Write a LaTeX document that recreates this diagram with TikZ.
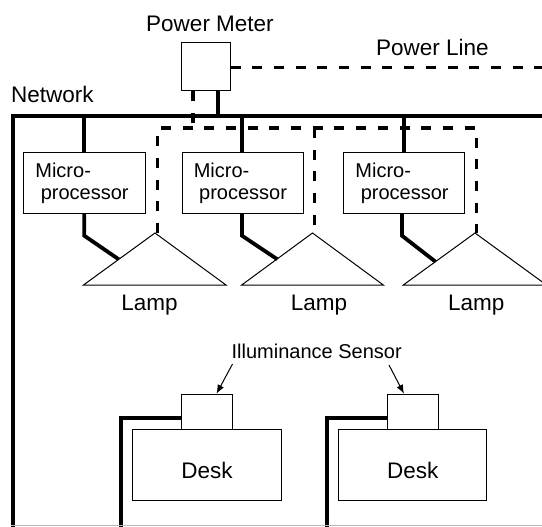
\documentclass[tikz,border=0pt]{standalone}
\usepackage{fontspec}
\setmainfont{Liberation Sans}
\usetikzlibrary{arrows.meta}
\begin{document}
\begin{tikzpicture}[x=1pt,y=-1pt,
  box/.style={draw, line width=1pt, inner sep=0pt},
  lbl/.style={inner sep=0pt, anchor=base, font=\fontsize{22.5}{27}\selectfont},
  slbl/.style={inner sep=0pt, anchor=base west, font=\fontsize{20}{24}\selectfont},
  net/.style={line width=3.8pt},
  pwr/.style={line width=3.3pt, dash pattern=on 10pt off 11.7pt},
  thinline/.style={line width=1pt},
  arr/.style={line width=1pt, -{Latex[length=9pt,width=7pt]}}
]
\clip (0,0) rectangle (542,527);
\fill[white] (0,0) rectangle (542,527);

% Power meter
\node[box, minimum width=49pt, minimum height=48pt] (pm) at (205.5,67) {};
\node[lbl] (pmtxt) at (210,31.7) {Power Meter};
\node[lbl] (pltxt) at (432.3,56) {Power Line};
\node[lbl, anchor=base west] (nettxt) at (11,103) {Network};

% helper x positions
\coordinate (x218) at (218,0);
\coordinate (x193) at (193,0);
\coordinate (x84) at (84.3,0);
\coordinate (x242) at (242,0);
\coordinate (x404) at (404,0);
\coordinate (x402) at (402,0);
\coordinate (xs1) at (216.5,0);
\coordinate (xs2) at (404,0);
\coordinate (yd) at (0,418.3);

% network bus
\coordinate (busR) at (542,116);
\coordinate (busL) at (12.7,116);
\coordinate (busB) at (12.7,527);
\draw[net] (busR) -- (busL) -- (busB);
\draw[net] (pm.south -| x218) -- (x218 |- busR);

% power line
\coordinate (plR) at (542,67.5);
\draw[pwr] (pm.east |- plR) -- (plR);

% microprocessors
\foreach \n/\xl/\w in {1/23.3/122, 2/181.7/121, 3/343.3/121}{
  \node[box, minimum width=\w pt, minimum height=60.7pt, anchor=north west] (mp\n) at (\xl,152) {};
  \node[slbl] (mpa\n) at (\xl+11.9,177.3) {Micro-};
  \node[slbl] (mpb\n) at (\xl+17.3,200) {processor};
}
\draw[net] (x84 |- busR) -- (mp1.north -| x84);
\draw[net] (x242 |- busR) -- (mp2.north -| x242);
\draw[net] (x404 |- busR) -- (mp3.north -| x404);

% lamps
\coordinate (l1a) at (155,233);
\coordinate (l1l) at (83.5,285);
\coordinate (l1r) at (226,285);
\coordinate (l2a) at (312.5,233);
\coordinate (l2l) at (241.7,285);
\coordinate (l2r) at (383.3,285);
\coordinate (l3a) at (475,233);
\coordinate (l3l) at (403.3,285);
\coordinate (l3r) at (546.5,285);
\draw[thinline] (l1l) -- (l1a) -- (l1r) -- cycle;
\draw[thinline] (l2l) -- (l2a) -- (l2r) -- cycle;
\draw[thinline] (l3l) -- (l3a) -- (l3r) -- cycle;
\node[lbl] (lamp1) at (149.5,310) {Lamp};
\node[lbl] (lamp2) at (319,310) {Lamp};
\node[lbl] (lamp3) at (476.3,310) {Lamp};

% micro to lamp
\coordinate (e1) at (118.7,259.3);
\coordinate (e2) at (277.3,259.3);
\coordinate (e3) at (435.5,261.7);
\draw[net] (mp1.south -| x84) -- (84.3,235.7) -- (e1);
\draw[net] (mp2.south -| x242) -- (242,235.7) -- (e2);
\draw[net] (mp3.south -| x402) -- (402,235.7) -- (e3);

% power distribution (dashed)
\coordinate (pd1) at (157.3,233);
\coordinate (pd2) at (314.3,233);
\coordinate (pd3) at (476.7,233);
\coordinate (pdy) at (0,128);
\draw[pwr] (pm.south -| x193) -- (x193 |- pdy);
\draw[pwr] (pd1) -- (pd1 |- pdy) -- (pd3 |- pdy) -- (pd3);
\draw[pwr] (pd2 |- pdy) -- (pd2);

% sensors and desks
\node[box, minimum width=50.6pt, minimum height=35pt] (s1) at (207,411.8) {};
\node[box, minimum width=50.4pt, minimum height=35pt] (s2) at (412.8,411.8) {};
\node[box, minimum width=148.3pt, minimum height=71.4pt] (d1) at (206.85,465) {};
\node[box, minimum width=148.2pt, minimum height=71.4pt] (d2) at (412.6,465) {};
\node[lbl] (d1t) at (207,478.3) {Desk};
\node[lbl] (d2t) at (412.7,478.3) {Desk};
\coordinate (dl1) at (121,527);
\coordinate (dl2) at (327,527);
\draw[net] (s1.west |- yd) -- (dl1 |- yd) -- (dl1);
\draw[net] (s2.west |- yd) -- (dl2 |- yd) -- (dl2);

\node[inner sep=0pt, anchor=base, font=\fontsize{20}{24}\selectfont] (senstxt) at (316.7,358.3) {Illuminance Sensor};
\coordinate (a1) at (232.5,364);
\coordinate (a2) at (389,365);
\draw[arr] (a1) -- (s1.north -| xs1);
\draw[arr] (a2) -- (s2.north -| xs2);

% bottom edge
\draw[gray!55, line width=1pt] (11,525.7) -- (542,525.7);
\end{tikzpicture}
\end{document}
